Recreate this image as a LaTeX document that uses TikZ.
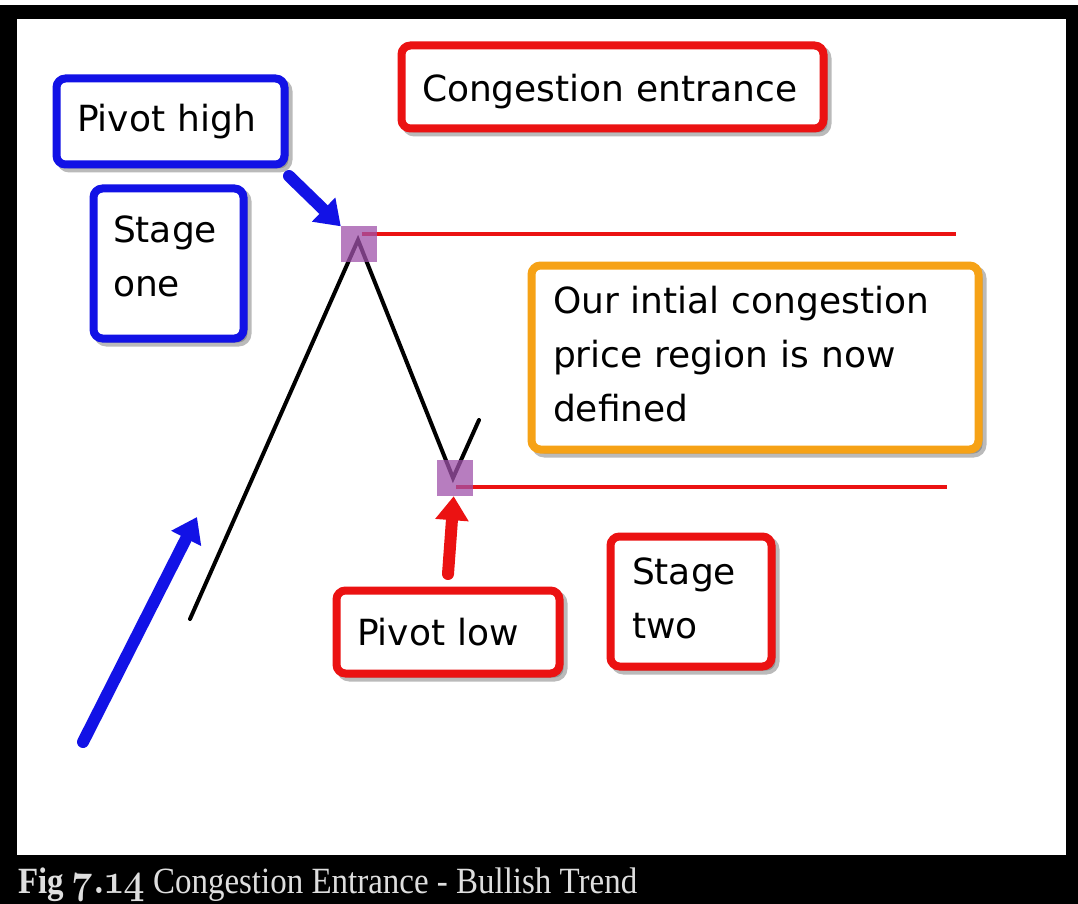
\documentclass[tikz,border=0pt]{standalone}
\usepackage{fontspec}
\newfontfamily\hand{DejaVu Sans}
\newfontfamily\capfont{Liberation Serif}
\newfontfamily\figfont{Latin Modern Roman}[Numbers=OldStyle]
\usetikzlibrary{arrows.meta,shadows}

\definecolor{cblue}{RGB}{18,18,230}
\definecolor{cred}{RGB}{235,18,18}
\definecolor{corange}{RGB}{246,162,22}
\definecolor{cpurple}{RGB}{160,82,170}
\definecolor{capt}{RGB}{222,222,222}

\tikzset{
  note/.style={draw, line width=8pt, rounded corners=9pt, fill=white,
    inner ysep=0pt, align=left, text height=26pt, text depth=0pt,
    font=\hand\fontsize{36}{54}\selectfont,
    drop shadow={shadow xshift=4pt, shadow yshift=-4pt,
      fill=black!60, draw=black!60, line width=8pt, opacity=0.45}},
  bluenote/.style={note, draw=cblue},
  rednote/.style={note, draw=cred},
  orangenote/.style={note, draw=corange},
  pointer/.style={line width=12pt, line cap=round,
    -{Triangle[width=32pt,length=24pt]}},
  price/.style={line width=4pt, black, line cap=round},
  level/.style={line width=3.5pt, cred},
  pivot/.style={fill=cpurple, fill opacity=0.75, minimum size=36pt,
    inner sep=0pt, draw=none}
}

\begin{document}
\begin{tikzpicture}[x=1pt, y=-1pt]
  \useasboundingbox (0,0) rectangle (1078,904);
  % frame and caption bar
  \fill[white] (0,0) rectangle (1078,904);
  \fill[black] (0,5) rectangle (1078,904);
  \fill[white] (17,19) rectangle (1066,855);

  % price path
  \coordinate (start) at (190,619);
  \coordinate (peak) at (358,240);
  \coordinate (trough) at (453,478);
  \coordinate (bounce) at (479,420);
  \draw[price] (start) -- (peak) -- (trough) -- (bounce);

  % congestion levels from the pivots, pivot markers on top
  \coordinate (phc) at (359,244);
  \coordinate (plc) at (455,478);
  \coordinate (hiend) at (956,234);
  \coordinate (loend) at (947,487);
  \draw[level] ([xshift=3pt,yshift=10pt]phc) -- (hiend);
  \draw[level] ([xshift=1pt,yshift=-9pt]plc) -- (loend);
  \node[pivot] (phsq) at (phc) {};
  \node[pivot] (plsq) at (plc) {};

  % callouts
  \node[bluenote, minimum width=228pt, minimum height=86pt, text width=187pt,
        inner xsep=20.5pt, text depth=5pt] (ph) at (170.5,121.5) {Pivot high};
  \node[bluenote, minimum width=150pt, minimum height=150pt, text width=111pt,
        inner xsep=19.5pt, text depth=69pt] (s1) at (168.5,263.5) {Stage\\one};
  \node[rednote, minimum width=422pt, minimum height=83pt, text width=381pt,
        inner xsep=20.5pt, text height=29pt] (ce) at (612.5,87) {Congestion entrance};
  \node[orangenote, minimum width=447pt, minimum height=184pt, text width=404pt,
        inner xsep=21.5pt, text depth=114pt] (cr) at (755,357.5)
        {Our intial congestion\\price region is now\\defined};
  \node[rednote, minimum width=223pt, minimum height=83pt, text width=182pt,
        inner xsep=20.5pt] (pl) at (448,632) {Pivot low};
  \node[rednote, minimum width=161pt, minimum height=130pt, text width=118pt,
        inner xsep=21.5pt, text depth=60pt] (s2) at (691,601.5) {Stage\\two};

  % pointers
  \coordinate (phtail) at (289,176);
  \coordinate (pltail) at (448,574);
  \coordinate (trendtail) at (83,742);
  \coordinate (trendtip) at (197,517);
  \draw[pointer, cblue] (phtail) -- (phsq);
  \draw[pointer, cred] (pltail) -- (plsq);
  \draw[pointer, cblue] (trendtail) -- (trendtip);

  % caption
  \node[anchor=base west, inner sep=0pt, text=capt] (caption) at (18,893)
    {\resizebox{619pt}{\height}{\capfont\fontsize{37}{40}\selectfont
      \textbf{Fig {\figfont\fontsize{42}{42}\selectfont\bfseries 7.14}}
      Congestion Entrance - Bullish Trend}};
\end{tikzpicture}
\end{document}
